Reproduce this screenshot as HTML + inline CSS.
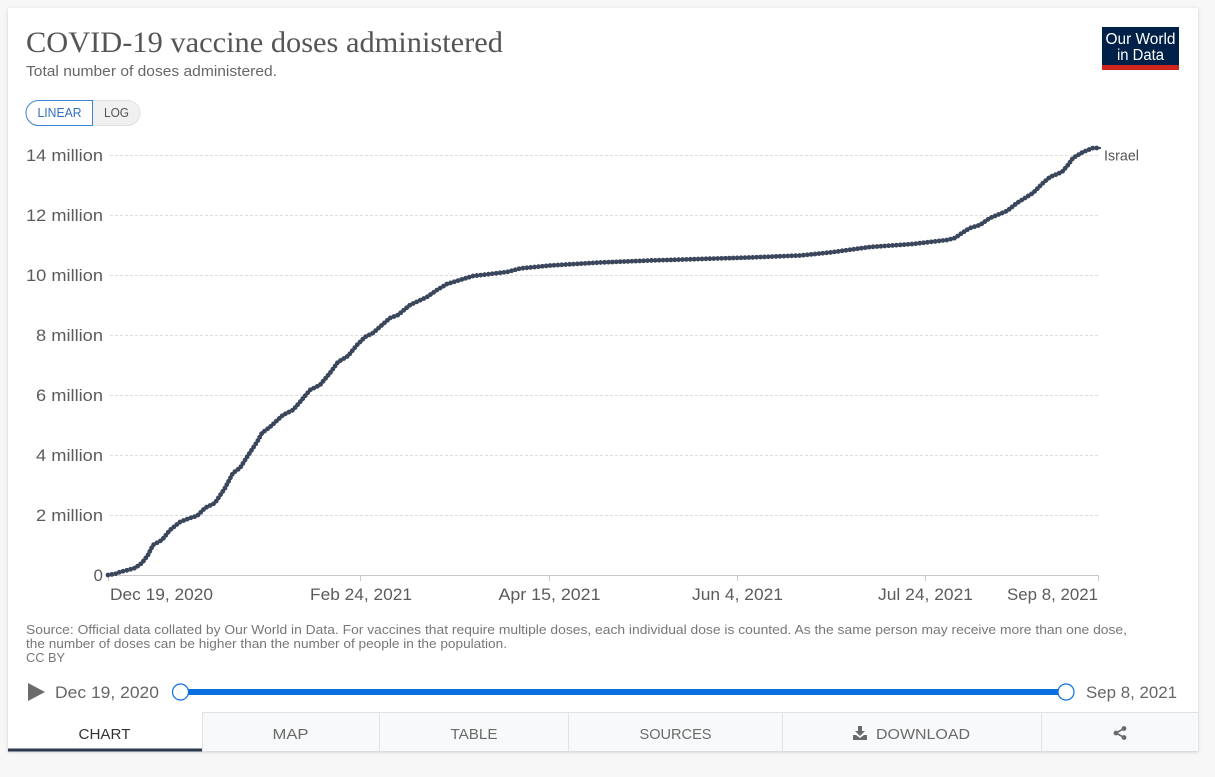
<!DOCTYPE html>
<html><head><meta charset="utf-8"><style>
html,body{margin:0;padding:0;background:#f7f7f7;}
svg{display:block;}
text{font-family:"Liberation Sans",sans-serif;}
</style></head><body>
<svg width="1215" height="777" viewBox="0 0 1215 777" xmlns="http://www.w3.org/2000/svg">
<defs>
<filter id="sh" x="-5%" y="-5%" width="110%" height="110%"><feDropShadow dx="0" dy="1" stdDeviation="1.5" flood-color="#000" flood-opacity="0.18"/></filter>
</defs>
<rect x="0" y="0" width="1215" height="777" fill="#f7f7f7"/>
<rect x="8" y="8" width="1190" height="743" fill="#fff" filter="url(#sh)"/>

<!-- Title -->
<text x="26" y="52" font-family="Liberation Serif, serif" font-size="30" fill="#555" textLength="477" lengthAdjust="spacingAndGlyphs" style="font-family:'Liberation Serif',serif">COVID-19 vaccine doses administered</text>
<text x="26" y="76" font-size="15" fill="#666" textLength="251" lengthAdjust="spacingAndGlyphs">Total number of doses administered.</text>

<!-- Logo -->
<rect x="1102" y="27" width="77" height="43" fill="#002147"/>
<rect x="1102" y="65" width="77" height="5" fill="#ce261e"/>
<text x="1140.5" y="44" font-size="15.5" fill="#fff" text-anchor="middle" textLength="70" lengthAdjust="spacingAndGlyphs">Our World</text>
<text x="1140.5" y="60" font-size="15.5" fill="#fff" text-anchor="middle" textLength="47" lengthAdjust="spacingAndGlyphs">in Data</text>

<!-- Linear / Log toggle -->
<path d="M92 100.5 H127.5 A12.5 12.5 0 0 1 127.5 125.5 H92 Z" fill="#f0f0f0" stroke="#e0e0e0" stroke-width="1"/>
<path d="M92.5 100.5 H38.5 A12.5 12.5 0 0 0 38.5 125.5 H92.5 Z" fill="#fff" stroke="#3d82d6" stroke-width="1"/>
<text x="59.5" y="117" font-size="12.5" fill="#2f6fc4" text-anchor="middle" textLength="44" lengthAdjust="spacingAndGlyphs">LINEAR</text>
<text x="116.5" y="117" font-size="12.5" fill="#555" text-anchor="middle" textLength="25" lengthAdjust="spacingAndGlyphs">LOG</text>

<!-- Gridlines -->
<g stroke="#dcdcdc" stroke-width="1" stroke-dasharray="3,2">
<line x1="110" y1="155.5" x2="1099" y2="155.5"/>
<line x1="110" y1="215.5" x2="1099" y2="215.5"/>
<line x1="110" y1="275.5" x2="1099" y2="275.5"/>
<line x1="110" y1="335.5" x2="1099" y2="335.5"/>
<line x1="110" y1="395.5" x2="1099" y2="395.5"/>
<line x1="110" y1="455.5" x2="1099" y2="455.5"/>
<line x1="110" y1="515.5" x2="1099" y2="515.5"/>
</g>

<!-- Y labels -->
<g font-size="17" fill="#5b5b5b" text-anchor="end">
<text x="103" y="161" textLength="77" lengthAdjust="spacingAndGlyphs">14 million</text>
<text x="103" y="221" textLength="77" lengthAdjust="spacingAndGlyphs">12 million</text>
<text x="103" y="281" textLength="77" lengthAdjust="spacingAndGlyphs">10 million</text>
<text x="103" y="341" textLength="67" lengthAdjust="spacingAndGlyphs">8 million</text>
<text x="103" y="401" textLength="67" lengthAdjust="spacingAndGlyphs">6 million</text>
<text x="103" y="461" textLength="67" lengthAdjust="spacingAndGlyphs">4 million</text>
<text x="103" y="521" textLength="67" lengthAdjust="spacingAndGlyphs">2 million</text>
<text x="103" y="581">0</text>
</g>

<!-- X axis -->
<line x1="108" y1="575.5" x2="1099" y2="575.5" stroke="#c8c8c8" stroke-width="1"/>
<g stroke="#c8c8c8" stroke-width="1">
<line x1="108.5" y1="575" x2="108.5" y2="581"/>
<line x1="360.5" y1="575" x2="360.5" y2="581"/>
<line x1="549.5" y1="575" x2="549.5" y2="581"/>
<line x1="737.5" y1="575" x2="737.5" y2="581"/>
<line x1="925.5" y1="575" x2="925.5" y2="581"/>
<line x1="1098.5" y1="575" x2="1098.5" y2="581"/>
</g>
<g font-size="17" fill="#5b5b5b">
<text x="110" y="600" textLength="103" lengthAdjust="spacingAndGlyphs">Dec 19, 2020</text>
<text x="361" y="600" text-anchor="middle" textLength="102" lengthAdjust="spacingAndGlyphs">Feb 24, 2021</text>
<text x="549.5" y="600" text-anchor="middle" textLength="102" lengthAdjust="spacingAndGlyphs">Apr 15, 2021</text>
<text x="737.5" y="600" text-anchor="middle" textLength="91" lengthAdjust="spacingAndGlyphs">Jun 4, 2021</text>
<text x="925.5" y="600" text-anchor="middle" textLength="95" lengthAdjust="spacingAndGlyphs">Jul 24, 2021</text>
<text x="1098" y="600" text-anchor="end" textLength="91" lengthAdjust="spacingAndGlyphs">Sep 8, 2021</text>
</g>

<!-- Series -->
<g fill="none" stroke="#3a465c" stroke-linejoin="round" stroke-linecap="round">
<polyline stroke-width="2.2" points="108,575 115,574 120,572 128,570 135,568 142,563 148,555 153,545 162,540 170,530 180,522 190,518 197,516 205,508 215,503 225,488 233,473 240,468 247,457 257,442 262,433 270,427 283,415 293,410 300,402 310,390 320,385 330,373 338,362 348,356 357,345 365,337 373,333 382,325 390,318 398,315 410,305 427,297 437,290 447,284 460,280 473,276 490,274 507,272 520,268.5 550,265.5 600,262.5 650,260.5 700,259 750,257.5 800,255.5 830,252.5 870,247 913,244 947,240 955,238 962,233 970,228 980,225 990,218 1007,211 1017,203 1033,193 1043,183 1050,177 1062,172 1068,165 1073,158 1083,152 1093,148 1100,148"/>
<polyline stroke-width="4.8" stroke-dasharray="0 3.9" points="108,575 115,574 120,572 128,570 135,568 142,563 148,555 153,545 162,540 170,530 180,522 190,518 197,516 205,508 215,503 225,488 233,473 240,468 247,457 257,442 262,433 270,427 283,415 293,410 300,402 310,390 320,385 330,373 338,362 348,356 357,345 365,337 373,333 382,325 390,318 398,315 410,305 427,297 437,290 447,284 460,280 473,276 490,274 507,272 520,268.5 550,265.5 600,262.5 650,260.5 700,259 750,257.5 800,255.5 830,252.5 870,247 913,244 947,240 955,238 962,233 970,228 980,225 990,218 1007,211 1017,203 1033,193 1043,183 1050,177 1062,172 1068,165 1073,158 1083,152 1093,148 1100,148"/>
</g>
<text x="1104" y="160.5" font-size="14.5" fill="#555" textLength="35" lengthAdjust="spacingAndGlyphs">Israel</text>

<!-- Source -->
<g font-size="13" fill="#777">
<text x="26" y="634" textLength="1101" lengthAdjust="spacingAndGlyphs">Source: Official data collated by Our World in Data. For vaccines that require multiple doses, each individual dose is counted. As the same person may receive more than one dose,</text>
<text x="26" y="648" textLength="481" lengthAdjust="spacingAndGlyphs">the number of doses can be higher than the number of people in the population.</text>
<text x="26" y="662" textLength="39" lengthAdjust="spacingAndGlyphs">CC BY</text>
</g>

<!-- Timeline -->
<path d="M28 683 L45 692 L28 701 Z" fill="#6b6b6b"/>
<text x="55" y="698" font-size="17" fill="#666" textLength="104" lengthAdjust="spacingAndGlyphs">Dec 19, 2020</text>
<rect x="180" y="689" width="886" height="6" fill="#0a70e0"/>
<circle cx="180.5" cy="692" r="8" fill="#fff" stroke="#0a70e0" stroke-width="1.2"/>
<circle cx="1066" cy="692" r="8" fill="#fff" stroke="#0a70e0" stroke-width="1.2"/>
<text x="1086" y="698" font-size="17" fill="#666" textLength="91" lengthAdjust="spacingAndGlyphs">Sep 8, 2021</text>

<!-- Tabs -->
<rect x="202" y="712" width="996" height="39" fill="#f8f9fa"/>
<line x1="202" y1="712.5" x2="1198" y2="712.5" stroke="#e2e2e2"/>
<g stroke="#e2e2e2">
<line x1="202.5" y1="712" x2="202.5" y2="751"/>
<line x1="379.5" y1="712" x2="379.5" y2="751"/>
<line x1="568.5" y1="712" x2="568.5" y2="751"/>
<line x1="782.5" y1="712" x2="782.5" y2="751"/>
<line x1="1041.5" y1="712" x2="1041.5" y2="751"/>
</g>
<rect x="8" y="748.5" width="194" height="3" fill="#2b3a50"/>
<g font-size="15" fill="#6a6a6a" text-anchor="middle">
<text x="104.5" y="739" fill="#333" textLength="52" lengthAdjust="spacingAndGlyphs">CHART</text>
<text x="290.5" y="739" textLength="36" lengthAdjust="spacingAndGlyphs">MAP</text>
<text x="474" y="739" textLength="47" lengthAdjust="spacingAndGlyphs">TABLE</text>
<text x="675.5" y="739" textLength="72" lengthAdjust="spacingAndGlyphs">SOURCES</text>
<text x="923" y="739" textLength="94" lengthAdjust="spacingAndGlyphs">DOWNLOAD</text>
</g>
<!-- download icon -->
<g fill="#6a6a6a">
<rect x="858" y="726" width="4" height="6"/>
<path d="M855 731 H865 L860 736 Z"/>
<path d="M853 735 H856 L860 738 L864 735 H867 V740 H853 Z"/>
</g>
<!-- share icon -->
<g fill="#6a6a6a" stroke="#6a6a6a" stroke-width="1.6">
<line x1="1124" y1="728.5" x2="1116" y2="733"/>
<line x1="1116" y1="733" x2="1124" y2="737.5"/>
<circle cx="1124" cy="728.5" r="2.4" stroke="none"/>
<circle cx="1116" cy="733" r="2.4" stroke="none"/>
<circle cx="1124" cy="737.5" r="2.4" stroke="none"/>
</g>
</svg>
</body></html>
